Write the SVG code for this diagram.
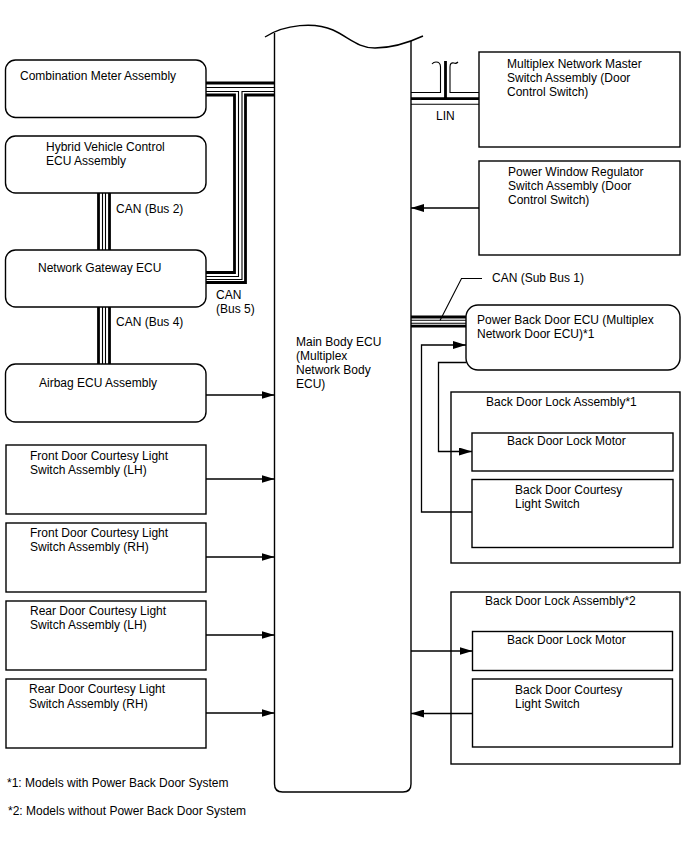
<svg xmlns="http://www.w3.org/2000/svg" width="688" height="852" viewBox="0 0 688 852">
<style>
text{font-family:"Liberation Sans",Arial,sans-serif;font-size:12px;fill:#000}
.box{fill:#fff;stroke:#000;stroke-width:1.4}
.ln{fill:none;stroke:#000;stroke-width:1.4}
.thk{fill:none;stroke:#000;stroke-width:2.8}
.thn{fill:none;stroke:#000;stroke-width:1.1}
.arr{fill:none;stroke:#000;stroke-width:1.3;marker-end:url(#ah)}
</style>
<defs>
<marker id="ah" markerUnits="userSpaceOnUse" markerWidth="13" markerHeight="8" refX="13" refY="4" orient="auto"><path d="M0,0 L13,4 L0,8 z" fill="#000"/></marker>
</defs>
<rect width="688" height="852" fill="#fff"/>

<g id="main-body-ecu">
<path class="ln" d="M274.5,33 V784 Q274.5,792 282.5,792 H403 Q411,792 411,784 V41"/>
<path class="ln" d="M265,37 C285,24 315,22 333,30 C350,38 358,48 375,48 C395,48 410,42 423,36"/>
<text x="296" y="346">Main Body ECU</text>
<text x="296" y="360">(Multiplex</text>
<text x="296" y="374">Network Body</text>
<text x="296" y="388">ECU)</text>
</g>

<g id="combination-meter">
<rect class="box" x="5.5" y="60" width="200.5" height="57.5" rx="10"/>
<text x="20" y="80">Combination Meter Assembly</text>
</g>
<g id="hybrid-ecu">
<rect class="box" x="5.5" y="136" width="200.5" height="57" rx="10"/>
<text x="46" y="151">Hybrid Vehicle Control</text>
<text x="46" y="165">ECU Assembly</text>
</g>
<g id="gateway-ecu">
<rect class="box" x="5.5" y="250" width="200.5" height="57" rx="10"/>
<text x="38" y="272">Network Gateway ECU</text>
</g>
<g id="airbag-ecu">
<rect class="box" x="5.5" y="364" width="200.5" height="58" rx="10"/>
<text x="39" y="387">Airbag ECU Assembly</text>
</g>
<g id="front-lh">
<rect class="box" x="6" y="445" width="200" height="69"/>
<text x="30" y="460">Front Door Courtesy Light</text>
<text x="30" y="474">Switch Assembly (LH)</text>
</g>
<g id="front-rh">
<rect class="box" x="6" y="523" width="200" height="69"/>
<text x="30" y="537">Front Door Courtesy Light</text>
<text x="30" y="551">Switch Assembly (RH)</text>
</g>
<g id="rear-lh">
<rect class="box" x="6" y="601" width="200" height="69"/>
<text x="30" y="615">Rear Door Courtesy Light</text>
<text x="30" y="629">Switch Assembly (LH)</text>
</g>
<g id="rear-rh">
<rect class="box" x="6" y="679" width="200" height="69"/>
<text x="29" y="693">Rear Door Courtesy Light</text>
<text x="29" y="708">Switch Assembly (RH)</text>
</g>

<g id="master-switch">
<rect class="box" x="479" y="52" width="201" height="95"/>
<text x="507" y="68">Multiplex Network Master</text>
<text x="507" y="82">Switch Assembly (Door</text>
<text x="507" y="96">Control Switch)</text>
</g>
<g id="power-window-switch">
<rect class="box" x="479" y="161" width="201" height="94"/>
<text x="508" y="176">Power Window Regulator</text>
<text x="508" y="190">Switch Assembly (Door</text>
<text x="508" y="204">Control Switch)</text>
</g>
<g id="power-back-door-ecu">
<rect class="box" x="466" y="305" width="214" height="65" rx="12"/>
<text x="477" y="324">Power Back Door ECU (Multiplex</text>
<text x="477" y="338">Network Door ECU)*1</text>
</g>
<g id="back-door-lock-1">
<rect class="box" x="451" y="392" width="229" height="171"/>
<text x="486" y="406">Back Door Lock Assembly*1</text>
<g id="lock-motor-1">
<rect class="box" x="472" y="433" width="201" height="38"/>
<text x="507" y="445">Back Door Lock Motor</text>
</g>
<g id="courtesy-switch-1">
<rect class="box" x="472" y="479.5" width="201" height="68"/>
<text x="515" y="494">Back Door Courtesy</text>
<text x="515" y="508">Light Switch</text>
</g>
</g>
<g id="back-door-lock-2">
<rect class="box" x="451" y="592" width="229" height="172"/>
<text x="485" y="605">Back Door Lock Assembly*2</text>
<g id="lock-motor-2">
<rect class="box" x="472.5" y="631.5" width="200" height="39"/>
<text x="507" y="644">Back Door Lock Motor</text>
</g>
<g id="courtesy-switch-2">
<rect class="box" x="472.5" y="679" width="200" height="68"/>
<text x="515" y="694">Back Door Courtesy</text>
<text x="515" y="708">Light Switch</text>
</g>
</g>

<g id="connectors">
<path class="thk" d="M206,83 H274.5"/>
<path class="thn" d="M206,87.5 H274.5"/>
<path class="thn" d="M206,91.5 H238.5 V276.5 H206"/>
<path class="thk" d="M206,95 H234.5 V272.5 H206"/>
<path class="thn" d="M274.5,91.5 H242 V279.5 H206"/>
<path class="thk" d="M274.5,95 H245.5 V282.5 H206"/>
<path class="thk" d="M98.5,193 V250"/>
<path class="thn" d="M102.5,193 V250"/>
<path class="thn" d="M105.5,193 V250"/>
<path class="thk" d="M109.5,193 V250"/>
<path class="thk" d="M98.5,307 V364"/>
<path class="thn" d="M102.5,307 V364"/>
<path class="thn" d="M105.5,307 V364"/>
<path class="thk" d="M109.5,307 V364"/>
<path class="thn" d="M411,92.5 H440.5 V67 Q440.5,62 436,62 Q433.5,62 432,64"/>
<path class="thn" d="M479,92.5 H450 V67 Q450,62 454,63 Q456,64 458,62"/>
<path class="thk" d="M411,98.7 H479 M445.5,98.7 V61"/>
<path class="thn" d="M411,104.3 H479"/>
<path class="thk" d="M411,317 H466"/>
<path class="thn" d="M411,320.3 H466"/>
<path class="thn" d="M411,323.2 H466"/>
<path class="thk" d="M411,326.2 H466"/>
<path class="thn" d="M440,320.5 L461.5,278.5 H482"/>
<path class="arr" d="M206,395 H274.5"/>
<path class="arr" d="M206,479 H274.5"/>
<path class="arr" d="M206,557 H274.5"/>
<path class="arr" d="M206,635 H274.5"/>
<path class="arr" d="M206,713 H274.5"/>
<path class="arr" d="M479,208 H411"/>
<path class="arr" d="M472,512 H421.5 V345 H466"/>
<path class="arr" d="M466,362.5 H438.5 V451.5 H472"/>
<path class="arr" d="M411,651 H472.5"/>
<path class="arr" d="M472.5,713.5 H411"/>
</g>

<g id="labels">
<text x="116" y="213">CAN (Bus 2)</text>
<text x="116" y="326">CAN (Bus 4)</text>
<text x="216" y="299">CAN</text>
<text x="216" y="313">(Bus 5)</text>
<text x="436" y="120">LIN</text>
<text x="492" y="282">CAN (Sub Bus 1)</text>
<text x="7" y="787">*1: Models with Power Back Door System</text>
<text x="8" y="815">*2: Models without Power Back Door System</text>
</g>
</svg>
